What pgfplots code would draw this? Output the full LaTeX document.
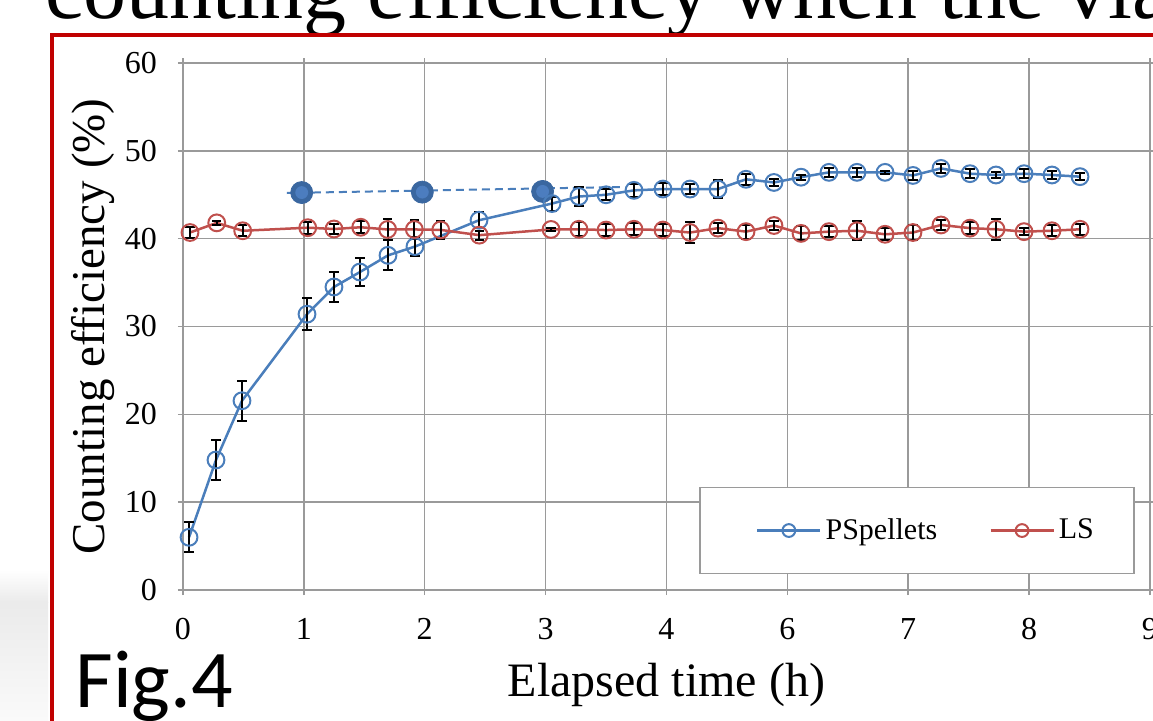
\documentclass[border=0pt]{standalone}
\usepackage{fontspec}
\setmainfont{Liberation Serif}
\newfontfamily\carlito{Carlito}
\usepackage{pgfplots}
\usepackage{pgfplotstable}
\pgfplotsset{compat=1.18}
\definecolor{psblue}{HTML}{4A7EBB}
\definecolor{lsred}{HTML}{C0504D}
\definecolor{dotblue}{HTML}{3A67A0}
\definecolor{dotlight}{HTML}{4C7DBF}
\definecolor{gridgray}{HTML}{9A9A9A}
\definecolor{framered}{HTML}{C00000}

\pgfplotstableread{
x y e
0.050 6.0 1.7
0.273 14.8 2.3
0.488 21.55 2.3
1.026 31.4 1.8
1.249 34.5 1.7
1.464 36.2 1.6
1.696 38.1 1.7
1.919 39.1 1.05
2.449 42.1 0.9
3.053 44.0 0.8
3.276 44.8 1.1
3.500 45.0 0.6
3.731 45.5 0.7
3.971 45.65 0.7
4.195 45.65 0.6
4.426 45.65 1.05
4.658 46.76 0.6
4.889 46.4 0.4
5.113 47.0 0.3
5.344 47.55 0.5
5.576 47.55 0.5
5.808 47.55 0.2
6.039 47.2 0.5
6.271 48.0 0.5
6.511 47.4 0.5
6.726 47.25 0.3
6.958 47.4 0.5
7.189 47.25 0.5
7.421 47.06 0.4
}\psdata

\pgfplotstableread{
x y e
0.058 40.7 0.6
0.279 41.8 0.2
0.494 40.9 0.6
1.032 41.25 0.7
1.249 41.1 0.6
1.470 41.3 0.7
1.693 41.05 1.15
1.914 41.05 1.1
2.132 41.0 1.0
2.451 40.4 0.5
3.045 41.05 0.15
3.276 41.07 0.8
3.500 40.98 0.7
3.731 41.07 0.7
3.971 40.98 0.7
4.195 40.7 1.2
4.426 41.2 0.6
4.658 40.8 0.8
4.889 41.5 0.5
5.113 40.6 0.8
5.344 40.8 0.6
5.576 40.9 1.1
5.808 40.5 0.7
6.039 40.7 0.9
6.271 41.56 0.6
6.511 41.2 0.7
6.726 41.07 1.2
6.958 40.8 0.4
7.189 40.9 0.6
7.421 41.07 0.6
}\lsdata

\begin{document}
\begin{tikzpicture}[x=0.5pt,y=0.5pt]
\useasboundingbox (0,0) rectangle (1153,720);
\clip (0,0) rectangle (1153,720);
\fill[white] (0,0) rectangle (1153,720);
% grey background blob at left
\shade[top color=white, bottom color=gray!16] (0,118) rectangle (48,150);
\shade[top color=gray!16, bottom color=gray!4] (0,0) rectangle (48,118);
% slide title (cut off)
\node[anchor=base west, inner sep=0pt, font=\fontsize{43}{43}\selectfont] at (45,702) {counting efficiency when the vial};
% red frame
\draw[framered, line width=2pt] (52,-5) -- (52,685) -- (1170,685);
% Fig label
\node[anchor=base west, inner sep=0pt, font=\carlito\fontsize{41}{41}\selectfont] at (75,13) {Fig.4};

\begin{axis}[
  at={(91.5pt,65pt)}, anchor=south west,
  scale only axis, width=483.5pt, height=263.5pt,
  xmin=0, xmax=8, ymin=0, ymax=60,
  xtick={0,1,...,8}, xticklabels={0,1,2,3,4,6,7,8,9},
  ytick={0,10,...,60},
  grid=major,
  major grid style={gridgray, line width=0.75pt},
  axis line style={gridgray, line width=0.75pt},
  tick align=outside, major tick length=2.5pt,
  tick style={gridgray, line width=0.75pt},
  /pgf/number format/assume math mode=true,
  tick label style={font=\fontsize{16}{16}\selectfont},
  x tick label style={yshift=-8pt},
  y tick label style={xshift=-7pt},
  xlabel={Elapsed time (h)},
  ylabel={Counting efficiency (\%)},
  x label style={at={(axis description cs:0.5,-0.18)}, anchor=center, font=\fontsize{24}{24}\selectfont},
  y label style={at={(axis description cs:-0.093,0.5)}, anchor=center, font=\fontsize{23.5}{23.5}\selectfont},
  legend style={at={(0.534,0.030)}, anchor=south west,
    draw=gridgray, line width=0.75pt, fill=white,
    font=\fontsize{15}{15}\selectfont,
    inner xsep=18pt, inner ysep=13.5pt,
    /tikz/every even column/.append style={column sep=14pt}},
  legend columns=2,
  legend image code/.code={\path (-10pt,0pt); \draw[mark repeat=2, mark phase=2, #1, mark size=3.2pt] plot coordinates {(0pt,0pt) (15.75pt,0pt) (31.5pt,0pt)};},
  error bars/error bar style={black, line width=1pt},
  error bars/error mark options={rotate=90, mark size=2.3pt, black, line width=1pt},
]
% dashed line with filled dots
\addplot[psblue, line width=1pt, dash pattern=on 4pt off 2.5pt, forget plot] coordinates {(0.860,45.20) (3.615,45.88)};
\addplot[only marks, mark=*, mark size=5.5pt, mark options={fill=dotblue, draw=dotblue}, forget plot] coordinates {(0.982,45.25) (1.98,45.3) (2.975,45.38)};
\addplot[only marks, mark=*, mark size=3pt, mark options={fill=dotlight, draw=dotlight}, forget plot] coordinates {(0.982,45.25) (1.98,45.3) (2.975,45.38)};

\addplot[psblue, line width=1.25pt, mark=o, mark size=4.2pt, mark options={line width=1pt, solid},
  error bars/.cd, y dir=both, y explicit]
  table[x=x, y=y, y error=e] {\psdata};
\addlegendentry{PSpellets}
\addplot[lsred, line width=1.25pt, mark=o, mark size=4.2pt, mark options={line width=1pt, solid},
  error bars/.cd, y dir=both, y explicit]
  table[x=x, y=y, y error=e] {\lsdata};
\addlegendentry{LS}
\end{axis}
\end{tikzpicture}
\end{document}
